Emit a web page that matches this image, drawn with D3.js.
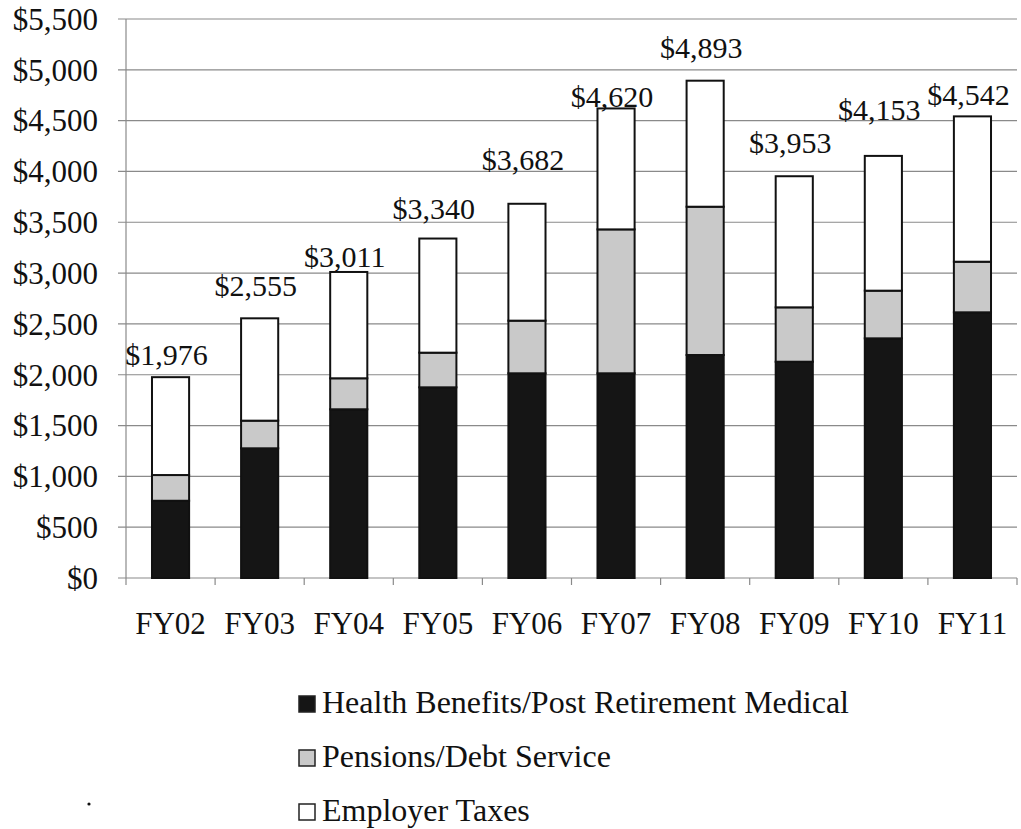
<!DOCTYPE html>
<html>
<head>
<meta charset="utf-8">
<script src="https://cdn.jsdelivr.net/npm/d3@7"></script>
<style>
  body { margin: 0; background: #fff; }
  svg text { font-family: "Liberation Serif", "Times New Roman", serif; fill: #111; }
</style>
</head>
<body>
<div id="box"></div>
<script>
// fiscal years and the stacked pieces (in $ thousands as shown)
var years = ["FY02", "FY03", "FY04", "FY05", "FY06", "FY07", "FY08", "FY09", "FY10", "FY11"];
var health = [760, 1276, 1660, 1876, 2014, 2014, 2194, 2128, 2358, 2614];
var pensions = [253, 272, 305, 341, 518, 1416, 1459, 535, 469, 498];
var totals = [1976, 2555, 3011, 3340, 3682, 4620, 4893, 3953, 4153, 4542];
var seriesNames = ["Health Benefits/Post Retirement Medical", "Pensions/Debt Service", "Employer Taxes"];
var yTicks = [0, 500, 1000, 1500, 2000, 2500, 3000, 3500, 4000, 4500, 5000, 5500];

// label lift above each bar top (px) - labels in the original sit a bit unevenly
var labelLift = [12, 22, 5, 20, 34, 1, 23, 23, 36, 11];

var fills = ["#151515", "#c9c9c9", "#ffffff"];

var W = 1021, H = 829;
var plotLeft = 126, plotRight = 1017, plotTop = 19, plotBottom = 578;

var svg = d3.select("#box")
    .append("svg")
    .attr("width", W)
    .attr("height", H);

// build rows for the stack
var rows = years.map(function(y, i) {
    return { year: y, health: health[i], pensions: pensions[i], taxes: totals[i] - health[i] - pensions[i] };
});
var stack = d3.stack().keys(["health", "pensions", "taxes"]);
var layers = stack(rows);

var x = d3.scaleBand()
    .domain(years)
    .range([plotLeft, plotRight])
    .paddingInner(1.4 / 2.4)
    .paddingOuter(0.7 / 2.4);

var y = d3.scaleLinear()
    .domain([0, 5500])
    .range([plotBottom, plotTop]);

// gridlines
svg.append("g")
    .selectAll("line")
    .data(yTicks)
    .enter()
    .append("line")
    .attr("x1", plotLeft - 8)
    .attr("x2", plotRight)
    .attr("y1", function(d) { return y(d); })
    .attr("y2", function(d) { return y(d); })
    .attr("stroke", "#8a8a8a")
    .attr("stroke-width", 1.2);

// y axis line
svg.append("line")
    .attr("x1", plotLeft).attr("x2", plotLeft)
    .attr("y1", plotTop).attr("y2", plotBottom)
    .attr("stroke", "#8a8a8a")
    .attr("stroke-width", 1.2);

// y labels
svg.append("g")
    .selectAll("text")
    .data(yTicks)
    .enter()
    .append("text")
    .attr("x", 98)
    .attr("y", function(d) { return y(d); })
    .attr("dy", "0.35em")
    .attr("text-anchor", "end")
    .attr("font-size", 31)
    .text(function(d) { return "$" + d3.format(",")(d); });

// category boundary ticks on x axis
var step = x.step();
var bounds = d3.range(years.length + 1).map(function(i) { return plotLeft + i * step; });
svg.append("g")
    .selectAll("line")
    .data(bounds)
    .enter()
    .append("line")
    .attr("x1", function(d) { return d; })
    .attr("x2", function(d) { return d; })
    .attr("y1", plotBottom)
    .attr("y2", plotBottom + 7)
    .attr("stroke", "#8a8a8a")
    .attr("stroke-width", 1.2);

// bars
svg.append("g")
    .selectAll("g")
    .data(layers)
    .enter()
    .append("g")
    .attr("fill", function(d, i) { return fills[i]; })
    .selectAll("rect")
    .data(function(d) { return d; })
    .enter()
    .append("rect")
    .attr("x", function(d) { return x(d.data.year); })
    .attr("width", x.bandwidth())
    .attr("y", function(d) { return y(d[1]); })
    .attr("height", function(d) { return y(d[0]) - y(d[1]); })
    .attr("stroke", "#111")
    .attr("stroke-width", 2);

// total labels
svg.append("g")
    .selectAll("text")
    .data(rows)
    .enter()
    .append("text")
    .attr("x", function(d) { return x(d.year) + x.bandwidth() / 2 - 4; })
    .attr("y", function(d, i) { return y(totals[i]) - labelLift[i]; })
    .attr("text-anchor", "middle")
    .attr("font-size", 30)
    .text(function(d, i) { return "$" + d3.format(",")(totals[i]); });

// x labels
svg.append("g")
    .selectAll("text")
    .data(years)
    .enter()
    .append("text")
    .attr("x", function(d) { return x(d) + x.bandwidth() / 2; })
    .attr("y", 634)
    .attr("text-anchor", "middle")
    .attr("font-size", 31)
    .text(function(d) { return d; });

// legend
var legend = svg.append("g")
    .selectAll("g")
    .data(seriesNames)
    .enter()
    .append("g")
    .attr("transform", function(d, i) { return "translate(299," + (713 + i * 54) + ")"; });

legend.append("rect")
    .attr("x", 0)
    .attr("y", -17)
    .attr("width", 16)
    .attr("height", 16)
    .attr("fill", function(d, i) { return fills[i]; })
    .attr("stroke", "#222")
    .attr("stroke-width", 1.5);

legend.append("text")
    .attr("x", 23)
    .attr("y", 0)
    .attr("font-size", 32)
    .text(function(d) { return d; });

// stray speck from the scan
svg.append("circle")
    .attr("cx", 89)
    .attr("cy", 804)
    .attr("r", 1.6)
    .attr("fill", "#111");
</script>
</body>
</html>
